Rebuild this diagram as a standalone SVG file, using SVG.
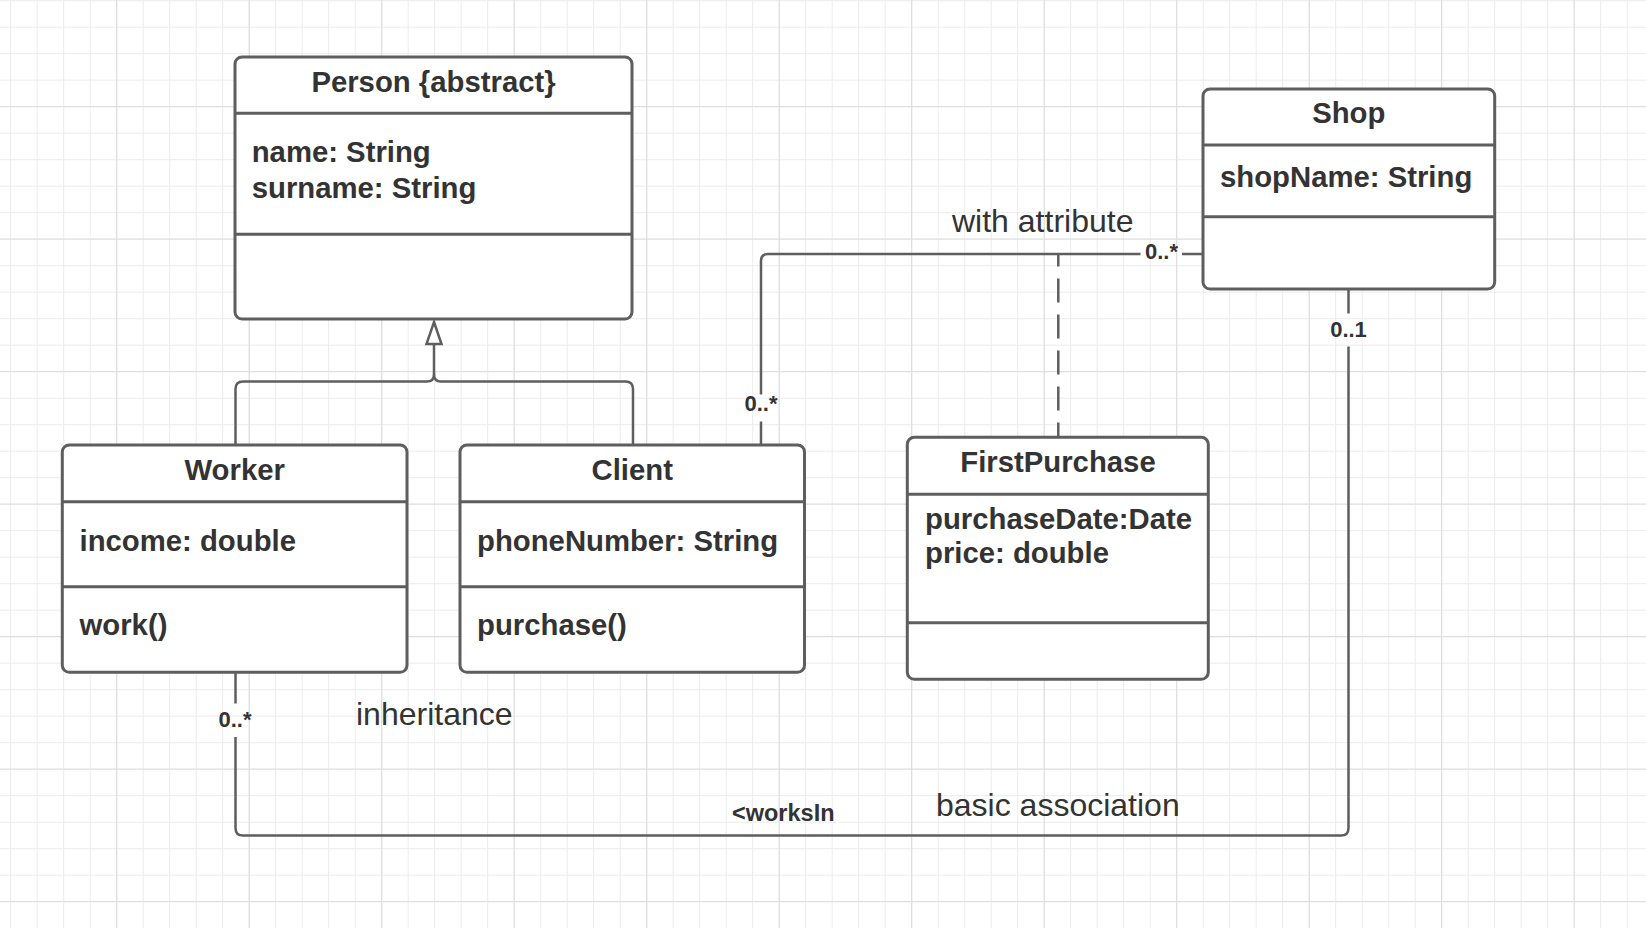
<svg xmlns="http://www.w3.org/2000/svg" width="1646" height="928" viewBox="0 0 1646 928">
<style>
.minor{fill:none;stroke:#ececec;stroke-width:1}
.major{fill:none;stroke:#dedede;stroke-width:1.3}
.box{fill:#fff;stroke:#5e5e5e;stroke-width:3}
.div{stroke:#5e5e5e;stroke-width:3}
.t{font-family:"Liberation Sans",Arial,sans-serif;font-weight:bold;font-size:29.3px;fill:#333}
.c{text-anchor:middle}
.conn{fill:none;stroke:#5e5e5e;stroke-width:2.5}
.dash{stroke-dasharray:24 12;stroke-dashoffset:11.5}
.lbl{font-family:"Liberation Sans",Arial,sans-serif;font-weight:bold;font-size:22px;fill:#333;text-anchor:middle}
.lbl2{font-family:"Liberation Sans",Arial,sans-serif;font-weight:bold;font-size:23.5px;fill:#333}
.note{font-family:"Liberation Sans",Arial,sans-serif;font-size:32px;fill:#333}
</style>
<rect x="0" y="0" width="1646" height="928" fill="#fff"/>
<g id="grid">
<path class="minor" d="M10.7 0V928M37.2 0V928M63.7 0V928M90.2 0V928M143.2 0V928M169.7 0V928M196.2 0V928M222.7 0V928M275.7 0V928M302.2 0V928M328.7 0V928M355.2 0V928M408.2 0V928M434.7 0V928M461.2 0V928M487.7 0V928M540.7 0V928M567.2 0V928M593.7 0V928M620.2 0V928M673.2 0V928M699.7 0V928M726.2 0V928M752.7 0V928M805.7 0V928M832.2 0V928M858.7 0V928M885.2 0V928M938.2 0V928M964.7 0V928M991.2 0V928M1017.7 0V928M1070.7 0V928M1097.2 0V928M1123.7 0V928M1150.2 0V928M1203.2 0V928M1229.7 0V928M1256.2 0V928M1282.7 0V928M1335.7 0V928M1362.2 0V928M1388.7 0V928M1415.2 0V928M1468.2 0V928M1494.7 0V928M1521.2 0V928M1547.7 0V928M1600.7 0V928M1627.2 0V928"/>
<path class="minor" d="M0 0.7H1646M0 27.2H1646M0 53.7H1646M0 80.2H1646M0 133.2H1646M0 159.7H1646M0 186.2H1646M0 212.7H1646M0 265.7H1646M0 292.2H1646M0 318.7H1646M0 345.2H1646M0 398.2H1646M0 424.7H1646M0 451.2H1646M0 477.7H1646M0 530.7H1646M0 557.2H1646M0 583.7H1646M0 610.2H1646M0 663.2H1646M0 689.7H1646M0 716.2H1646M0 742.7H1646M0 795.7H1646M0 822.2H1646M0 848.7H1646M0 875.2H1646"/>
<path class="major" d="M116.7 0V928M249.2 0V928M381.7 0V928M514.2 0V928M646.7 0V928M779.2 0V928M911.7 0V928M1044.2 0V928M1176.7 0V928M1309.2 0V928M1441.7 0V928M1574.2 0V928M0 106.7H1646M0 239.2H1646M0 371.7H1646M0 504.2H1646M0 636.7H1646M0 769.2H1646M0 901.7H1646"/>
</g>
<g id="connectors">
<path class="conn" d="M235.5 445V389Q235.5 381.5 243 381.5H427Q434 381.5 434 374.5V344"/>
<path class="conn" d="M633 445V389Q633 381.5 625.5 381.5H441Q434 381.5 434 374.5"/>
<path class="conn" d="M434 322L441.5 344H426.5Z" style="fill:#fff"/>
<path class="conn" d="M761 445V421.5M761 394.5V261Q761 254 768 254H1140.5M1182 254H1203"/>
<path class="conn dash" d="M1058.3 254V437"/>
<path class="conn" d="M235.5 672V703.5M235.5 737V828Q235.5 835.6 243 835.6H1341Q1348.5 835.6 1348.5 828V346.5M1348.5 313.5V289"/>
<text class="lbl" x="761" y="410.5">0..*</text>
<text class="lbl" x="1161.5" y="259">0..*</text>
<text class="lbl" x="1348.5" y="336.5">0..1</text>
<text class="lbl" x="235" y="726.5">0..*</text>
<text class="lbl2" x="732" y="820.5">&lt;worksIn</text>
<text class="note" x="952" y="232">with attribute</text>
<text class="note" x="356" y="725">inheritance</text>
<text class="note" x="936" y="816">basic association</text>
</g>
<g id="person">
<rect class="box" x="235" y="57" width="397" height="262" rx="7"/>
<line class="div" x1="235" y1="113.3" x2="632" y2="113.3"/>
<line class="div" x1="235" y1="234.3" x2="632" y2="234.3"/>
<text class="t c" x="433.5" y="91.7">Person {abstract}</text>
<text class="t" x="251.7" y="161.7">name: String</text>
<text class="t" x="251.7" y="198.3">surname: String</text>
</g>
<g id="worker">
<rect class="box" x="62.3" y="445" width="344.7" height="227.3" rx="7"/>
<line class="div" x1="62.3" y1="501.7" x2="407" y2="501.7"/>
<line class="div" x1="62.3" y1="586.7" x2="407" y2="586.7"/>
<text class="t c" x="234.7" y="480">Worker</text>
<text class="t" x="79.5" y="551">income: double</text>
<text class="t" x="79.5" y="635">work()</text>
</g>
<g id="client">
<rect class="box" x="460" y="445" width="344.5" height="227.3" rx="7"/>
<line class="div" x1="460" y1="501.7" x2="804.5" y2="501.7"/>
<line class="div" x1="460" y1="586.7" x2="804.5" y2="586.7"/>
<text class="t c" x="632.2" y="480">Client</text>
<text class="t" x="477" y="551">phoneNumber: String</text>
<text class="t" x="477" y="635">purchase()</text>
</g>
<g id="shop">
<rect class="box" x="1203" y="89" width="291.7" height="200" rx="7"/>
<line class="div" x1="1203" y1="145" x2="1494.7" y2="145"/>
<line class="div" x1="1203" y1="216.7" x2="1494.7" y2="216.7"/>
<text class="t c" x="1348.8" y="123.3">Shop</text>
<text class="t" x="1220" y="186.7">shopName: String</text>
</g>
<g id="firstpurchase">
<rect class="box" x="907.3" y="437.3" width="301" height="242" rx="7"/>
<line class="div" x1="907.3" y1="494.3" x2="1208.3" y2="494.3"/>
<line class="div" x1="907.3" y1="622.7" x2="1208.3" y2="622.7"/>
<text class="t c" x="1058" y="472.3">FirstPurchase</text>
<text class="t" x="925" y="529">purchaseDate:Date</text>
<text class="t" x="925" y="563.3">price: double</text>
</g>
</svg>
